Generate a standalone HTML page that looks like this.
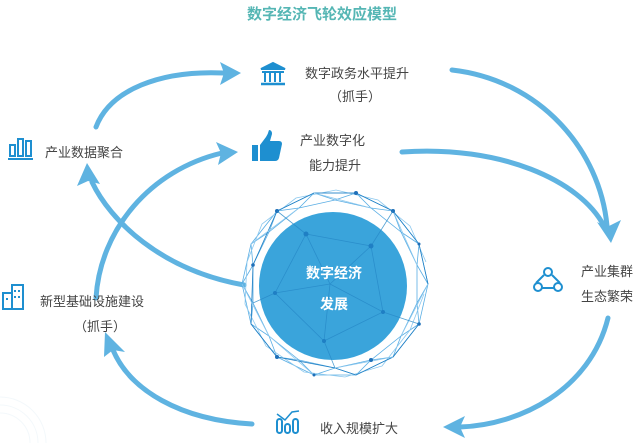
<!DOCTYPE html>
<html><head><meta charset="utf-8"><style>
html,body{margin:0;padding:0;background:#fff;width:642px;height:443px;overflow:hidden;}
svg{display:block;}
text{font-family:"Liberation Sans","Noto Sans CJK SC",sans-serif;}
</style></head><body>
<svg width="642" height="443" viewBox="0 0 642 443" xmlns="http://www.w3.org/2000/svg">
<g fill="none" stroke="#f3f8fb" stroke-width="1">
<circle cx="0" cy="443" r="30"/><circle cx="0" cy="443" r="38"/><circle cx="0" cy="443" r="46"/>
</g>
<text x="322" y="19" text-anchor="middle" font-size="15" font-weight="bold" fill="#55b6b4">数字经济飞轮效应模型</text>

<g fill="none" stroke="#5fb3e1" stroke-width="5" stroke-linecap="round">
<path d="M96,127 C110,90 160,70 224,73"/>
<path d="M452,70 C540,80 600,150 607,226"/>
<path d="M402,152 C500,145 580,180 604,226"/>
<path d="M608,318 C590,390 520,425 460,427"/>
<path d="M252,424 C180,420 130,390 113,350"/>
<path d="M96,298 C100,230 150,170 222,153"/>
<path d="M244,285 C160,270 110,220 92,182"/>
</g>
<g fill="#5fb3e1">
<polygon points="241,73 220,62 224,73 220,85"/>
<polygon points="238,152 216,142 221,153 218,165"/>
<polygon points="87,163 77,186 88,181 100,184"/>
<polygon points="611,243 597,222 607,227 621,220"/>
<polygon points="443,427 465,416 460,427 465,438"/>
<polygon points="105,332 104,357 113,350 125,352"/>
</g>

<g fill="none" stroke="#5aaee4" stroke-width="0.8">
<polygon points="428,284 419,324 393,357 356,375 314,375 277,357 251,324 242,284 251,244 277,211 314,193 356,193 393,211 419,244"/>
<polygon points="417,303 401,336 371,360 335,368 299,360 269,336 253,303 253,265 269,232 299,208 335,200 371,208 401,232 417,265"/>
<polyline points="428,284 417,303 419,324 401,336 393,357 371,360 356,375 335,368 314,375 299,360 277,357 269,336 251,324 253,303 242,284 253,265 251,244 269,232 277,211 299,208 314,193 335,200 356,193 371,208 393,211 401,232 419,244 417,265 428,284"/>
<polyline stroke="#8cc8ee" points="424,294 410,330 382,366 345,377 304,372 266,346 245,304 247,262 262,224 296,198 336,190 378,200 410,226 426,262"/>
<polyline stroke="#1f7fc4" points="419,324 393,357 356,375 335,368 277,357 251,324 253,265 277,211 314,193 356,193 393,211 419,244 428,284"/>
<path stroke="#8cc8ee" d="M242,284 L269,336 M251,244 L299,208 M314,193 L371,208 M393,211 L417,265 M428,284 L401,336 M393,357 L335,368 M314,375 L269,336"/>
</g>
<g fill="#1f6fb8">
<circle cx="393" cy="211" r="2"/><circle cx="356" cy="193" r="2"/><circle cx="277" cy="211" r="2"/><circle cx="253" cy="265" r="1.8"/><circle cx="419" cy="324" r="1.8"/><circle cx="371" cy="360" r="2"/><circle cx="277" cy="357" r="2"/><circle cx="419" cy="244" r="1.5"/><circle cx="314" cy="375" r="1.5"/>
</g>
<circle cx="333" cy="286" r="74" fill="#2f9fd9" opacity="0.95"/>
<g fill="none" stroke="#2789c8" stroke-width="0.8" opacity="0.8">
<polyline points="306,234 371,246 383,312 324,341 275,293 306,234"/>
<path d="M306,234 L330,284 L371,246 M330,284 L383,312 M330,284 L324,341 M330,284 L275,293 M306,234 L277,211 M371,246 L393,211 M383,312 L419,324 M324,341 L335,368 M275,293 L253,303"/>
</g>
<g fill="#1f7fc4"><circle cx="306" cy="234" r="2.5"/><circle cx="371" cy="246" r="2.5"/><circle cx="383" cy="312" r="2"/><circle cx="324" cy="341" r="2"/><circle cx="275" cy="293" r="2"/></g>
<text x="334" y="278" text-anchor="middle" font-size="14" font-weight="bold" fill="#fff">数字经济</text>
<text x="334" y="309" text-anchor="middle" font-size="14" font-weight="bold" fill="#fff">发展</text>

<g font-size="13" fill="#444">
<text x="305" y="78">数字政务水平提升</text>
<text x="355" y="101" text-anchor="middle">（抓手）</text>
<text x="300" y="145">产业数字化</text>
<text x="309" y="170">能力提升</text>
<text x="45" y="157">产业数据聚合</text>
<text x="40" y="306">新型基础设施建设</text>
<text x="100" y="331" text-anchor="middle">（抓手）</text>
<text x="581" y="276">产业集群</text>
<text x="581" y="301">生态繁荣</text>
<text x="320" y="433">收入规模扩大</text>
</g>

<g fill="none" stroke="#1e8fd0" stroke-width="2">
<polygon points="261,69 273,63 285,69" fill="#1e8fd0"/>
<line x1="262" y1="72" x2="284" y2="72"/>
<line x1="265" y1="73" x2="265" y2="82"/><line x1="270" y1="73" x2="270" y2="82"/><line x1="275" y1="73" x2="275" y2="82"/><line x1="280" y1="73" x2="280" y2="82"/>
<line x1="261" y1="84" x2="285" y2="84" stroke-width="2.5"/>
<rect x="10" y="145" width="5" height="11"/><rect x="18" y="139" width="5" height="17"/><rect x="26" y="141" width="5" height="15"/>
<line x1="8" y1="159" x2="33" y2="159"/>
<rect x="3" y="293" width="9" height="16"/><rect x="12" y="285" width="11" height="24"/>
<circle cx="548" cy="272" r="4"/><circle cx="538" cy="287" r="4"/><circle cx="558" cy="287" r="4"/>
<path d="M544,275 L536,283 M552,275 L560,283 M542,288 L554,288"/>
<rect x="277" y="419" width="5" height="14" rx="2.5"/><rect x="285" y="424" width="5" height="9" rx="2.5"/><rect x="293" y="419" width="5" height="14" rx="2.5"/>
<polyline points="277,414 285,420 292,412 299,411" stroke-width="1.5"/>
</g>
<path d="M252,145 h6 v16 h-6 z M260,145 l6,-8 q2,-3 3,-7 q3,0 3,4 l-2,7 h9 q3,0 3,3 l-3,14 q-1,3 -4,3 h-15 z" fill="#1e8fd0"/>
<g fill="#1e8fd0"><rect x="14" y="290" width="2" height="2"/><rect x="18" y="290" width="2" height="2"/><rect x="14" y="296" width="2" height="2"/><rect x="18" y="296" width="2" height="2"/><rect x="6" y="298" width="2" height="2"/></g>
</svg>
</body></html>
